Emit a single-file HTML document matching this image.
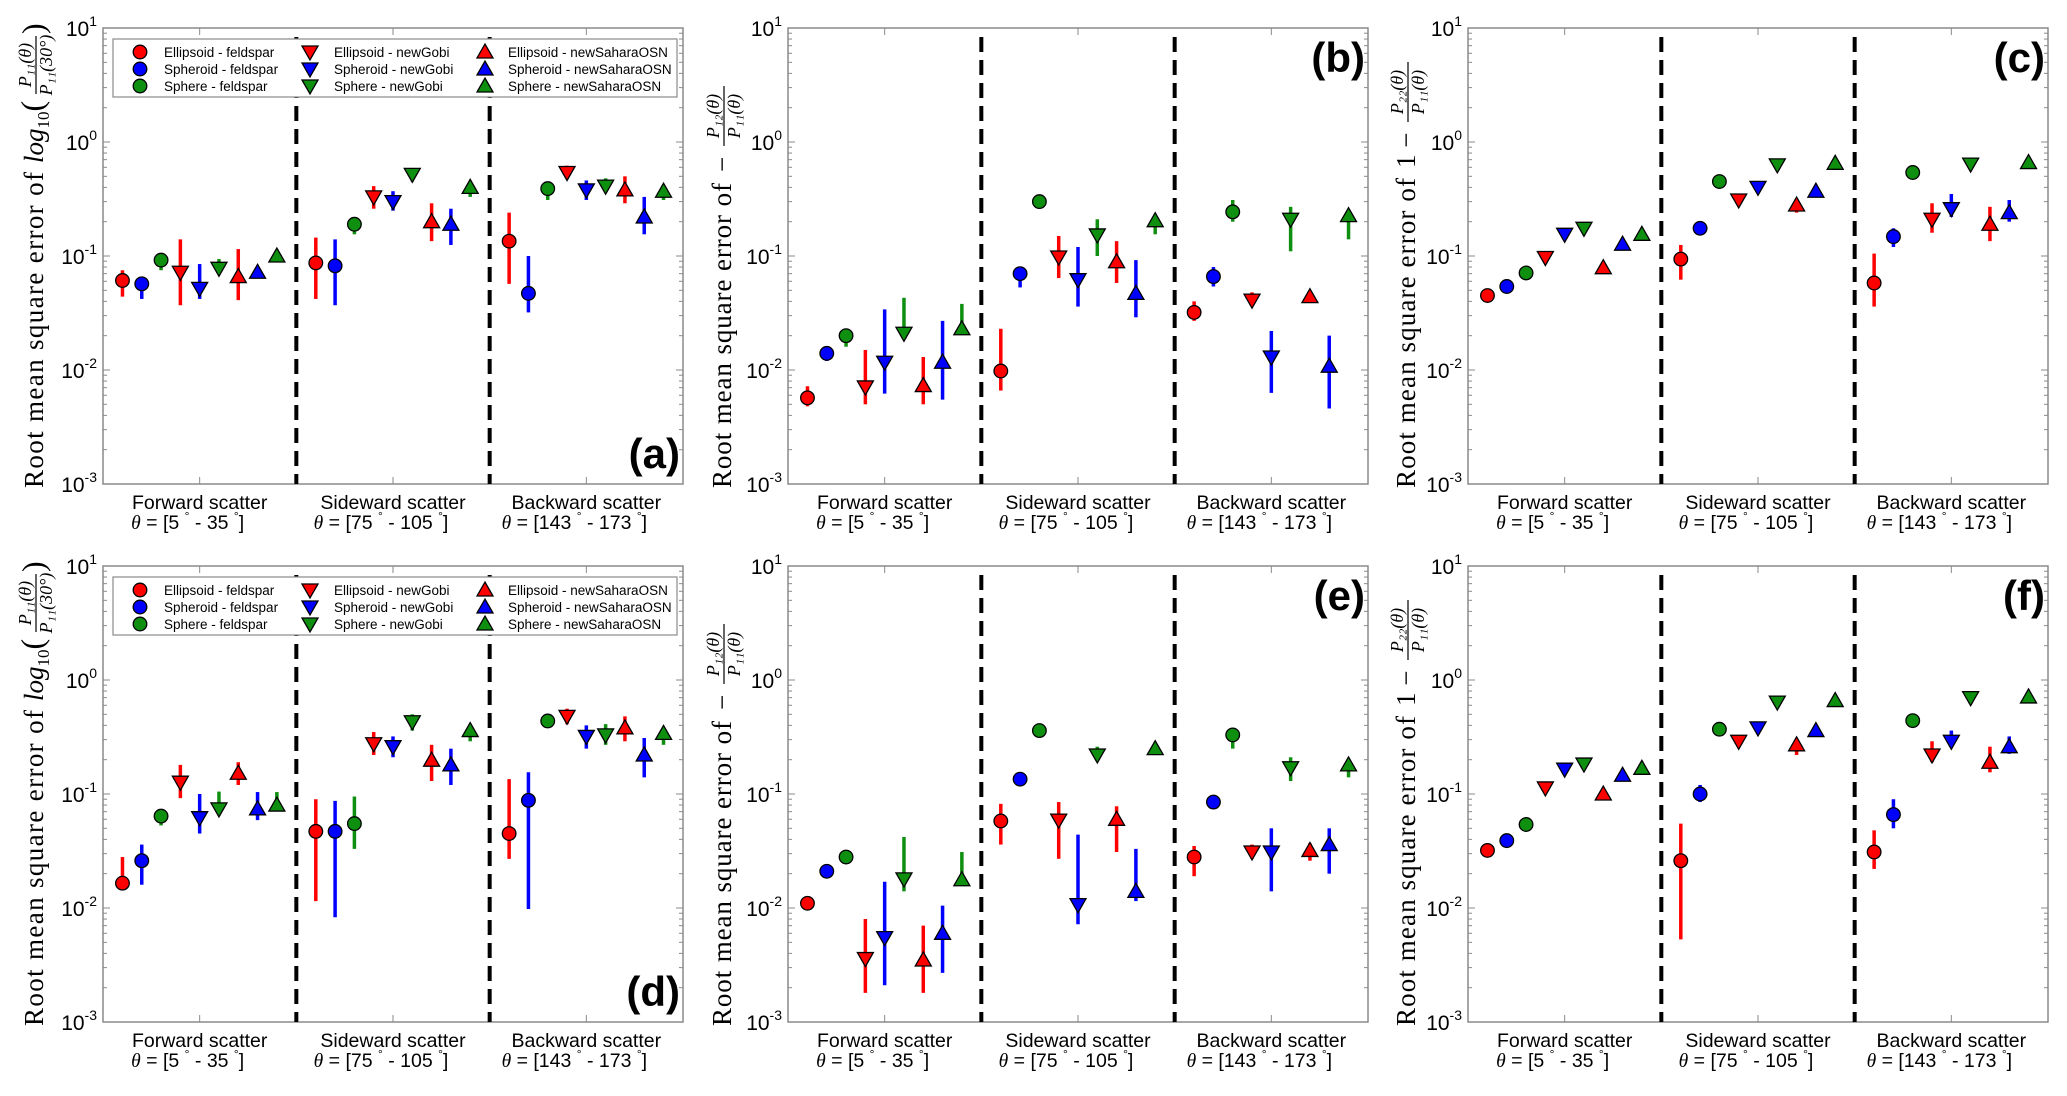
<!DOCTYPE html>
<html><head><meta charset="utf-8"><style>
html,body{margin:0;padding:0;background:#fff;}
svg{display:block;}
</style></head><body>
<svg id="fig" width="2067" height="1096" viewBox="0 0 2067 1096" xmlns="http://www.w3.org/2000/svg"></svg>
<script>
const categories = ["Forward scatter","Sideward scatter","Backward scatter"];
const angleLo = ["5","75","143"];
const angleHi = ["35","105","173"];
const seriesNames = ["Ellipsoid - feldspar","Spheroid - feldspar","Sphere - feldspar","Ellipsoid - newGobi","Spheroid - newGobi","Sphere - newGobi","Ellipsoid - newSaharaOSN","Spheroid - newSaharaOSN","Sphere - newSaharaOSN"];
const yTickExp = ["1","0","-1","-2","-3"];

const aVals=[0.061,0.057,0.092,0.072,0.052,0.078,0.066,0.072,0.10, 0.087,0.082,0.19,0.33,0.30,0.52,0.20,0.19,0.40, 0.135,0.047,0.39,0.54,0.38,0.41,0.38,0.22,0.37];
const aLo=[0.044,0.042,0.075,0.037,0.042,0.07,0.041,0.067,0.095, 0.042,0.037,0.155,0.26,0.25,0.45,0.135,0.125,0.33, 0.057,0.032,0.31,0.5,0.31,0.36,0.29,0.155,0.31];
const aHi=[0.075,0.06,0.095,0.14,0.085,0.094,0.115,0.075,0.105, 0.145,0.14,0.22,0.41,0.37,0.58,0.29,0.26,0.45, 0.24,0.10,0.43,0.62,0.46,0.48,0.5,0.33,0.42];

const bVals=[0.0057,0.014,0.020,0.0071,0.0117,0.021,0.0073,0.0117,0.023, 0.0098,0.070,0.30,0.098,0.062,0.153,0.089,0.047,0.204, 0.032,0.066,0.244,0.041,0.013,0.21,0.044,0.0108,0.226];
const bLo=[0.0048,0.012,0.016,0.005,0.0062,0.02,0.005,0.0055,0.022, 0.0066,0.053,0.29,0.064,0.036,0.10,0.058,0.029,0.155, 0.027,0.054,0.2,0.04,0.0063,0.11,0.043,0.0046,0.14];
const bHi=[0.0072,0.016,0.023,0.015,0.034,0.043,0.013,0.027,0.038, 0.023,0.078,0.31,0.15,0.12,0.21,0.135,0.092,0.21, 0.04,0.08,0.31,0.048,0.022,0.27,0.045,0.02,0.24];

const cVals=[0.045,0.054,0.071,0.097,0.155,0.175,0.079,0.127,0.155, 0.094,0.175,0.45,0.31,0.40,0.63,0.28,0.37,0.65, 0.058,0.148,0.54,0.21,0.26,0.64,0.19,0.24,0.66];
const cLo=[0.045,0.054,0.071,0.097,0.155,0.175,0.075,0.127,0.155, 0.062,0.175,0.45,0.29,0.40,0.63,0.24,0.37,0.65, 0.036,0.12,0.54,0.16,0.22,0.64,0.135,0.2,0.66];
const cHi=[0.045,0.054,0.071,0.097,0.155,0.175,0.079,0.127,0.155, 0.125,0.175,0.45,0.35,0.40,0.63,0.3,0.37,0.65, 0.105,0.175,0.54,0.29,0.35,0.64,0.27,0.31,0.66];

const dVals=[0.0165,0.026,0.064,0.127,0.062,0.074,0.152,0.074,0.08, 0.047,0.047,0.055,0.276,0.26,0.43,0.198,0.18,0.36, 0.045,0.088,0.437,0.48,0.32,0.33,0.38,0.22,0.34];
const dLo=[0.0165,0.016,0.053,0.092,0.045,0.068,0.12,0.059,0.075, 0.0115,0.0083,0.033,0.22,0.21,0.36,0.13,0.12,0.29, 0.027,0.0098,0.38,0.41,0.25,0.27,0.29,0.14,0.27];
const dHi=[0.028,0.036,0.07,0.18,0.1,0.105,0.19,0.104,0.104, 0.09,0.087,0.095,0.35,0.32,0.5,0.27,0.25,0.37, 0.135,0.155,0.46,0.56,0.4,0.41,0.48,0.31,0.35];

const eVals=[0.011,0.021,0.028,0.0036,0.0055,0.018,0.0035,0.006,0.0177, 0.058,0.135,0.36,0.059,0.0107,0.22,0.06,0.014,0.25, 0.028,0.085,0.33,0.031,0.031,0.17,0.032,0.036,0.18];
const eLo=[0.011,0.021,0.028,0.0018,0.0021,0.014,0.0018,0.0027,0.017, 0.036,0.135,0.36,0.027,0.0072,0.2,0.031,0.0115,0.25, 0.019,0.085,0.25,0.027,0.014,0.13,0.026,0.02,0.14];
const eHi=[0.011,0.021,0.028,0.008,0.017,0.042,0.007,0.0105,0.031, 0.082,0.135,0.36,0.085,0.044,0.26,0.078,0.033,0.25, 0.035,0.085,0.36,0.036,0.05,0.21,0.037,0.05,0.2];

const fVals=[0.032,0.039,0.054,0.113,0.165,0.183,0.10,0.146,0.168, 0.026,0.10,0.37,0.29,0.38,0.64,0.27,0.36,0.66, 0.031,0.066,0.44,0.22,0.29,0.70,0.19,0.26,0.71];
const fLo=[0.032,0.039,0.054,0.113,0.165,0.183,0.10,0.146,0.168, 0.0053,0.085,0.37,0.28,0.38,0.64,0.22,0.36,0.66, 0.022,0.05,0.44,0.19,0.27,0.70,0.155,0.225,0.71];
const fHi=[0.032,0.039,0.054,0.113,0.165,0.183,0.10,0.146,0.168, 0.055,0.12,0.37,0.33,0.38,0.64,0.28,0.36,0.66, 0.048,0.09,0.44,0.29,0.36,0.70,0.26,0.32,0.71];

const NS="http://www.w3.org/2000/svg";
const svg=document.getElementById('fig');
const COLORS=["#ff0000","#0000ff","#0f8f0f"];
const W=580,H=456;
function mk(tag,attrs,parent){const e=document.createElementNS(NS,tag);for(const k in attrs)e.setAttribute(k,attrs[k]);(parent||svg).appendChild(e);return e;}

const panels=[
 {id:'a',L:103,T:28,vals:aVals,lo:aLo,hi:aHi,legend:true,letterTop:false,kind:'log',lab:34},
 {id:'b',L:788,T:28,vals:bVals,lo:bLo,hi:bHi,legend:false,letterTop:true,kind:'p12',lab:722},
 {id:'c',L:1468,T:28,vals:cVals,lo:cLo,hi:cHi,legend:false,letterTop:true,kind:'p22',lab:1406},
 {id:'d',L:103,T:566,vals:dVals,lo:dLo,hi:dHi,legend:true,letterTop:false,kind:'log',lab:34},
 {id:'e',L:788,T:566,vals:eVals,lo:eLo,hi:eHi,legend:false,letterTop:true,kind:'p12',lab:722},
 {id:'f',L:1468,T:566,vals:fVals,lo:fLo,hi:fHi,legend:false,letterTop:true,kind:'p22',lab:1406}
];

function marker(g,shape,color,x,y){
  let el;
  if(shape===0) el=mk('circle',{cx:x,cy:y,r:6.8,fill:color,stroke:'#000','stroke-width':1.3},g);
  else if(shape===1) el=mk('polygon',{points:`${x-8},${y-6} ${x+8},${y-6} ${x},${y+8}`,fill:color,stroke:'#000','stroke-width':1.3},g);
  else el=mk('polygon',{points:`${x-8},${y+6} ${x+8},${y+6} ${x},${y-8}`,fill:color,stroke:'#000','stroke-width':1.3},g);
  return el;
}

panels.forEach(p=>{
  const g=mk('g',{});
  
  
  const L=p.L,T=p.T;
  const yS=v=>T+(1-Math.log10(v))*H/4;
  const gw=W/3;
  const xS=i=>L+gw*(Math.floor(i/9)+0.5)+((i%9)-4)*19.3;
  const fr=mk('rect',{x:L,y:T,width:W,height:H,fill:'none',stroke:'#8a8a8a','stroke-width':1.5},g);
  
  
  for(let d=0;d<4;d++){
    for(let k=1;k<10;k++){
      const v=Math.pow(10,-3+d)*k; const y=yS(v);
      const len=k===1?7:4;
      mk('line',{x1:L,x2:L+len,y1:y,y2:y,stroke:'#8a8a8a','stroke-width':1},g);
      mk('line',{x1:L+W,x2:L+W-len,y1:y,y2:y,stroke:'#8a8a8a','stroke-width':1},g);
    }
  }
  yTickExp.forEach((ex,i)=>{
    const y=yS(Math.pow(10,+ex));
    const t=mk('text',{x:L-6,y:y+8,'text-anchor':'end','font-family':'Liberation Sans, sans-serif','font-size':21,fill:'#000'},g);
    
    
    const s1=mk('tspan',{},t);s1.textContent='10';
    const s2=mk('tspan',{dy:-10,'font-size':14},t);s2.textContent=ex;
  });
  categories.forEach((c,i)=>{
    const x=L+gw*(i+0.5);
    mk('line',{x1:x,x2:x,y1:T+H,y2:T+H-7,stroke:'#8a8a8a','stroke-width':1},g);
    mk('line',{x1:x,x2:x,y1:T,y2:T+7,stroke:'#8a8a8a','stroke-width':1},g);
    const t=mk('text',{x:x,y:T+H+25,'text-anchor':'middle','font-family':'Liberation Sans, sans-serif','font-size':19.5,fill:'#000'},g);
    
    
    t.textContent=c;
    const t2=mk('text',{x:x-12,y:T+H+45,'text-anchor':'middle','font-family':'Liberation Sans, sans-serif','font-size':19.5,fill:'#000'},g);
    
    
    const a=mk('tspan',{'font-family':'Liberation Serif, serif','font-style':'italic'},t2);a.textContent='θ';
    const b=mk('tspan',{},t2);b.textContent=' = ['+angleLo[i]+' ';
    const c1=mk('tspan',{dy:-9,'font-size':12},t2);c1.textContent='°';
    const d=mk('tspan',{dy:9},t2);d.textContent=' - '+angleHi[i]+' ';
    const e=mk('tspan',{dy:-9,'font-size':12},t2);e.textContent='°';
    const f=mk('tspan',{dy:9},t2);f.textContent=']';
  });
  [1,2].forEach(k=>{
    const x=L+gw*k;
    const l=mk('line',{x1:x,x2:x,y1:T+9,y2:T+H,stroke:'#000','stroke-width':4,'stroke-dasharray':'15,8'},g);
    
    
  });
  if(p.legend){
    const lg=mk('g',{},g);
    
    
    mk('rect',{x:L+10,y:T+11,width:564,height:58,fill:'#fff',stroke:'#8a8a8a','stroke-width':1.2},lg);
    const mx=[L+37,L+207,L+382], tx=[L+61,L+231,L+405], ry=[T+24,T+41,T+58];
    seriesNames.forEach((n,s)=>{
      const col=Math.floor(s/3), row=s%3;
      const en=mk('g',{},lg);
      
      
      marker(en,col,COLORS[row],mx[col],ry[row]);
      const t=mk('text',{x:tx[col],y:ry[row]+5,'font-family':'Liberation Sans, sans-serif','font-size':13.5,fill:'#000'},en);
      t.textContent=n;
    });
  }
  p.vals.forEach((v,i)=>{
    const s=i%9, shape=Math.floor(s/3), color=COLORS[s%3];
    const x=xS(i);
    const pg=mk('g',{},g);
    
    
    if(p.hi[i]>p.lo[i]){
      mk('line',{x1:x,x2:x,y1:yS(p.lo[i]),y2:yS(p.hi[i]),stroke:color,'stroke-width':3.5},pg);
    }
    marker(pg,shape,color,x,yS(v));
  });
  const lt=mk('text',{x:L+W-3,y:p.letterTop?T+44:T+H-16,'text-anchor':'end','font-family':'Liberation Sans Narrow, Liberation Sans, sans-serif','font-weight':'bold','font-size':42,fill:'#000'},g);
  
  
  lt.textContent='('+p.id+')';
  const yg=mk('g',{transform:`translate(${p.lab},${T+H+4}) rotate(-90)`},g);
  
  
  const serif='Liberation Serif, serif';
  const base=mk('text',{x:0,y:9,'font-family':serif,'font-size':27,fill:'#000'},yg);
  if(p.kind==='log'){
    base.setAttribute('textLength',316);
    base.textContent='Root mean square error of';
    const lg2=mk('text',{x:325,y:9,'font-family':serif,'font-size':27,fill:'#000'},yg);
    const a=mk('tspan',{'font-style':'italic'},lg2);a.textContent='log';
    const b=mk('tspan',{dy:6,'font-size':17},lg2);b.textContent='10';
    const c=mk('tspan',{dy:-6,'font-size':32},lg2);c.textContent='(';
    mk('line',{x1:394,x2:452,y1:2,y2:2,stroke:'#000','stroke-width':1.2},yg);
    const n=mk('text',{x:423,y:-3,'text-anchor':'middle','font-family':serif,'font-size':18,'font-style':'italic',fill:'#000'},yg);n.textContent='P₁₁(θ)';
    const dn=mk('text',{x:423,y:18,'text-anchor':'middle','font-family':serif,'font-size':18,'font-style':'italic',fill:'#000'},yg);dn.textContent='P₁₁(30°)';
    const cp=mk('text',{x:454,y:10,'font-family':serif,'font-size':32,fill:'#000'},yg);cp.textContent=')';
  } else {
    const one = p.kind==='p22';
    base.setAttribute('textLength',one?310:305);
    base.textContent='Root mean square error of';
    const m=mk('text',{x:one?320:316,y:9,'font-family':serif,'font-size':27,fill:'#000'},yg);
    m.textContent=one?'1 −':'−';
    const fx=one?366:342;
    mk('line',{x1:fx,x2:fx+60,y1:2,y2:2,stroke:'#000','stroke-width':1.2},yg);
    const n=mk('text',{x:fx+30,y:-3,'text-anchor':'middle','font-family':serif,'font-size':18,'font-style':'italic',fill:'#000'},yg);n.textContent=one?'P₂₂(θ)':'P₁₂(θ)';
    const dn=mk('text',{x:fx+30,y:18,'text-anchor':'middle','font-family':serif,'font-size':18,'font-style':'italic',fill:'#000'},yg);dn.textContent='P₁₁(θ)';
  }
});
</script>
</body></html>
